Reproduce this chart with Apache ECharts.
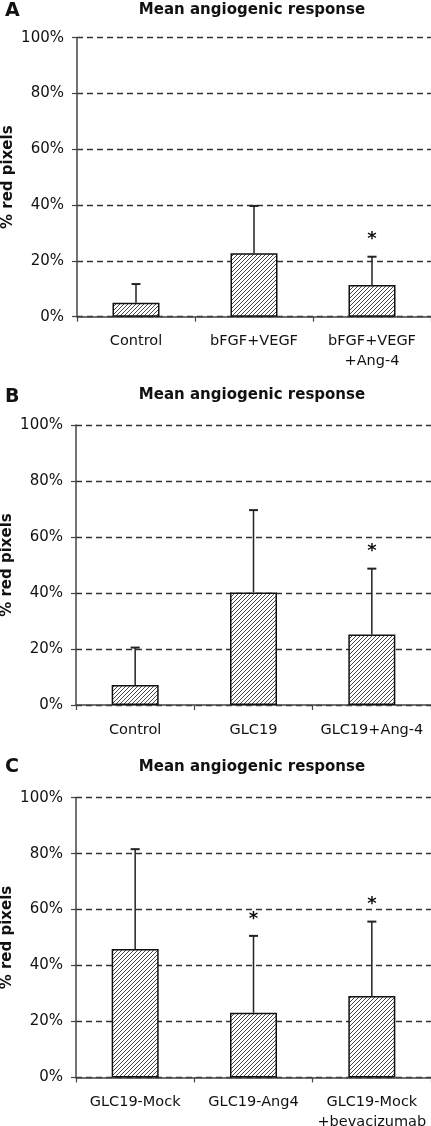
<!DOCTYPE html>
<html>
<head>
<meta charset="utf-8">
<script src="https://cdn.jsdelivr.net/npm/echarts@6/dist/echarts.min.js"></script>
<style>
html,body{margin:0;padding:0;background:#fff;}
#chart{width:431px;height:1126px;}
</style>
</head>
<body>
<div id="chart"></div>
<script>
// ---- data ----
const panelLabels = ['A', 'B', 'C'];
const chartTitle = 'Mean angiogenic response';
const yAxisName = '% red pixels';
const yTicks = [0, 20, 40, 60, 80, 100];

const catsA = ['Control', 'bFGF+VEGF', 'bFGF+VEGF\n+Ang-4'];
const meanA = [5.0, 22.7, 11.4];
const errTopA = [11.7, 39.7, 21.5];
const starA = [false, false, true];

const catsB = ['Control', 'GLC19', 'GLC19+Ang-4'];
const meanB = [7.1, 40.2, 25.2];
const errTopB = [20.5, 69.6, 48.7];
const starB = [false, false, true];

const catsC = ['GLC19-Mock', 'GLC19-Ang4', 'GLC19-Mock\n+bevacizumab'];
const meanC = [45.9, 23.1, 29.1];
const errTopC = [81.6, 50.6, 55.7];
const starC = [false, true, true];

// ---- hatch pattern ----
function makeHatch() {
  const s = 4;
  const c = document.createElement('canvas');
  c.width = s; c.height = s;
  const g = c.getContext('2d');
  g.fillStyle = '#fff';
  g.fillRect(0, 0, s, s);
  g.strokeStyle = '#333';
  g.lineWidth = 0.9;
  g.beginPath();
  g.moveTo(-1, s + 1); g.lineTo(s + 1, -1);
  g.moveTo(-1, 1); g.lineTo(1, -1);
  g.moveTo(s - 1, s + 1); g.lineTo(s + 1, s - 1);
  g.stroke();
  return c;
}
const hatch = makeHatch();

const panels = [
  {cats: catsA, mean: meanA, err: errTopA, star: starA, grid: {left: 77, top: 37.7, right: 0, height: 279}, lab: -3, tit: -2},
  {cats: catsB, mean: meanB, err: errTopB, star: starB, grid: {left: 76, top: 425, right: 0, height: 280}, lab: 383, tit: 383},
  {cats: catsC, mean: meanC, err: errTopC, star: starC, grid: {left: 76, top: 797.7, right: 0, height: 279.7}, lab: 753, tit: 755}
];

const FONT = 'DejaVu Sans';
const grids = [], xAxes = [], yAxes = [], series = [], titles = [];

panels.forEach((p, i) => {
  grids.push(Object.assign({containLabel: false, outerBoundsMode: 'none'}, p.grid));
  xAxes.push({
    type: 'category', gridIndex: i, data: p.cats,
    axisLine: {lineStyle: {color: '#444', width: 1.5}},
    axisTick: {show: true, length: 5, lineStyle: {color: '#444', width: 1.2}},
    axisLabel: {color: '#111', fontFamily: FONT, fontSize: 14.5, margin: 15, lineHeight: 20, interval: 0, hideOverlap: false}
  });
  yAxes.push({
    type: 'value', gridIndex: i, min: 0, max: 100, interval: 20,
    name: yAxisName, nameLocation: 'middle', nameGap: 61, nameMoveOverlap: false,
    nameTextStyle: {fontFamily: FONT, fontWeight: 'bold', fontSize: 15, color: '#111'},
    axisLine: {show: true, lineStyle: {color: '#444', width: 1.5}},
    axisTick: {show: true, length: 5, lineStyle: {color: '#444', width: 1.2}},
    axisLabel: {color: '#111', fontFamily: FONT, fontSize: 15, margin: 13,
      formatter: v => yTicks.indexOf(v) >= 0 ? v + '%' : ''},
    splitLine: {show: true, lineStyle: {color: '#333', width: 1.3, type: [6, 4]}}
  });
  series.push({
    type: 'bar', xAxisIndex: i, yAxisIndex: i, data: p.mean, barWidth: 47,
    itemStyle: {color: {image: hatch, repeat: 'repeat'}, borderColor: '#111', borderWidth: 1.5},
    silent: true, animation: false
  });
  series.push({
    type: 'custom', xAxisIndex: i, yAxisIndex: i, animation: false, silent: true,
    data: p.mean.map((m, k) => [k, m, p.err[k], p.star[k] ? 1 : 0]),
    renderItem: function (params, api) {
      const base = api.coord([api.value(0), api.value(1)]);
      const top = api.coord([api.value(0), api.value(2)]);
      const children = [
        {type: 'line', shape: {x1: base[0], y1: base[1], x2: top[0], y2: top[1]}, style: {stroke: '#222', lineWidth: 1.5}},
        {type: 'line', shape: {x1: top[0] - 4.5, y1: top[1], x2: top[0] + 4.5, y2: top[1]}, style: {stroke: '#222', lineWidth: 2}}
      ];
      if (api.value(3)) {
        children.push({type: 'text', style: {text: '*', x: top[0], y: top[1] - 17, align: 'center', verticalAlign: 'middle',
          font: 'bold 18px "DejaVu Sans"', fill: '#111'}});
      }
      return {type: 'group', children: children};
    },
    z: 5
  });
  titles.push({text: chartTitle, left: 247, top: p.tit, textAlign: 'center',
    textStyle: {fontFamily: FONT, fontWeight: 'bold', fontSize: 15, color: '#111'}});
  titles.push({text: panelLabels[i], left: 0, top: p.lab,
    textStyle: {fontFamily: FONT, fontWeight: 'bold', fontSize: 19, color: '#111'}});
});

const chart = echarts.init(document.getElementById('chart'), null, {renderer: 'canvas'});
chart.setOption({
  animation: false,
  backgroundColor: '#fff',
  title: titles,
  grid: grids,
  xAxis: xAxes,
  yAxis: yAxes,
  series: series
});
</script>
</body>
</html>
